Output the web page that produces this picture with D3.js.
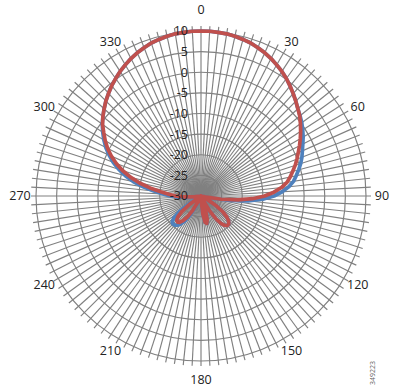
<!DOCTYPE html>
<html lang="en">
<head>
  <meta charset="UTF-8">
  <title>Antenna pattern</title>
  <script src="https://d3js.org/d3.v7.min.js"></script>
  <style>
    body { background: #fff; margin: 0; }
    svg { display: block; }
    .ring, .spoke { fill: none; stroke: #808080; stroke-width: 1.15; }
    .lbl { font-family: "Open Sans", sans-serif; font-size: 12.5px; fill: #222; }
    .series { fill: none; stroke-width: 3.7; stroke-linejoin: round; }
  </style>
</head>
<body>
  <svg width="393" height="388"></svg>

  <script>
// categories: one spoke every 3 degrees
const angles = d3.range(0, 360, 3);
const angleLabels = [0, 30, 60, 90, 120, 150, 180, 210, 240, 270, 300, 330];
const ringValues = [-30, -25, -20, -15, -10, -5, 0, 5, 10];

// gain in dB, one value per spoke
const blueGain = [
  10.0, 10.0, 9.9, 9.8, 9.6, 9.3, 9.0, 8.5, 8.0, 7.4,
  6.7, 6.0, 5.2, 4.3, 3.4, 2.5, 1.6, 0.9, 0.2, -0.6,
  -1.4, -2.3, -3.1, -3.8, -4.6, -5.5, -6.4, -7.3, -8.6, -10.3,
  -12.3, -15, -18.5, -23, -28, -34, -36, -35, -34, -31,
  -28, -25.5, -23.5, -22, -21, -20.5, -20.4, -20.8, -21.8, -23.5,
  -26, -29, -32, -29, -26.5, -24.2, -23.2, -23.5, -25.5, -28.5,
  -32, -35, -36, -35, -33, -31, -33, -32, -30, -27,
  -24.5, -22.8, -21.6, -20.9, -20.5, -20.4, -20.6, -21.5, -23.5, -26.5,
  -29.5, -32, -35, -36, -35, -33, -31.5, -29.5, -27, -24.5,
  -22.5, -20.8, -18.5, -15.8, -13.2, -11, -9, -7.2, -5.6, -4.1,
  -2.8, -1.6, -0.4, 0.6, 1.6, 2.6, 3.5, 4.4, 5.2, 6.0,
  6.7, 7.4, 8.0, 8.5, 9.0, 9.3, 9.6, 9.8, 9.9, 10.0
];
const redGain = [
  10.0, 10.0, 9.9, 9.8, 9.6, 9.3, 9.0, 8.5, 8.0, 7.4,
  6.7, 6.0, 5.2, 4.3, 3.4, 2.5, 1.6, 0.8, -0.2, -1.2,
  -2.2, -3.2, -4.2, -5.1, -6.0, -7.0, -7.9, -8.9, -10.4, -12.3,
  -14.6, -17.5, -21, -25, -29, -34, -36, -35, -34, -31,
  -28, -25.5, -23.5, -22, -21, -20.5, -20.4, -20.8, -21.8, -23.5,
  -26, -29, -32, -29, -26.5, -24.2, -23.2, -23.5, -25.5, -28.5,
  -32, -35, -36, -35, -33, -31, -33, -32, -31, -28.5,
  -26, -24, -22.6, -21.8, -21.5, -21.7, -22.5, -24, -26.5, -30,
  -34, -36, -37, -36, -35, -33, -31.5, -30.5, -28.5, -26,
  -23.8, -22.2, -20.2, -17.5, -14.8, -12.3, -10, -8, -6.2, -4.6,
  -3.2, -1.9, -0.5, 0.6, 1.6, 2.6, 3.5, 4.4, 5.2, 6.0,
  6.7, 7.4, 8.0, 8.5, 9.0, 9.3, 9.6, 9.8, 9.9, 10.0
];

const svg = d3.select("svg");
const cx = 201, cy = 196;
const R = 165;

const r = d3.scaleLinear().domain([-30, 10]).range([0, R]).clamp(true);
const rad = d => d * Math.PI / 180;

const g = svg.append("g").attr("transform", `translate(${cx},${cy})`);

// rings
g.selectAll(".ring")
  .data(ringValues.filter(v => v > -30))
  .enter()
  .append("circle")
  .attr("class", "ring")
  .attr("r", d => r(d));

// spokes, running a little past the outer ring as tick marks
g.selectAll(".spoke")
  .data(angles)
  .enter()
  .append("line")
  .attr("class", "spoke")
  .attr("x1", 0).attr("y1", 0)
  .attr("x2", d => Math.sin(rad(d)) * (R + 5))
  .attr("y2", d => -Math.cos(rad(d)) * (R + 5));

// series
const line = d3.lineRadial()
  .angle((d, i) => rad(angles[i]))
  .radius(d => r(d))
  .curve(d3.curveLinearClosed);

g.append("path").attr("class", "series").attr("stroke", "#4f81bd").attr("d", line(blueGain));
g.append("path").attr("class", "series").attr("stroke", "#c0504d").attr("d", line(redGain));

// value axis labels
g.selectAll(".vlbl")
  .data(ringValues)
  .enter()
  .append("text")
  .attr("class", "lbl")
  .attr("x", -13)
  .attr("y", d => -r(d))
  .attr("dy", "0.35em")
  .attr("text-anchor", "end")
  .text(d => d);

// angle labels
g.selectAll(".albl")
  .data(angleLabels)
  .enter()
  .append("text")
  .attr("class", "lbl")
  .attr("x", d => Math.sin(rad(d)) * 181)
  .attr("y", d => -Math.cos(rad(d)) * 178 - (d === 0 ? 8 : d === 180 ? -6 : 0))
  .attr("dy", "0.35em")
  .attr("text-anchor", "middle")
  .text(d => d);

// figure id
svg.append("text")
  .attr("transform", "translate(375,385) rotate(-90)")
  .attr("font-family", "Open Sans, sans-serif")
  .attr("font-size", 7)
  .attr("fill", "#666")
  .text("349223");
  </script>
</body>
</html>
